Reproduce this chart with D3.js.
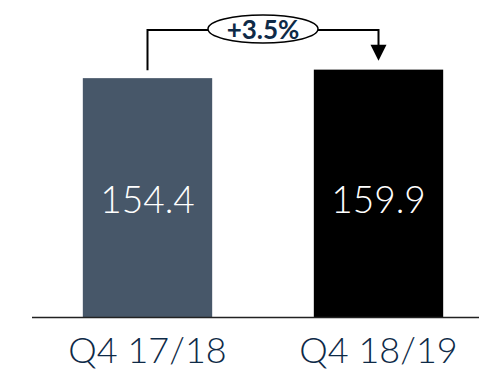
<!DOCTYPE html>
<html>
<head>
<meta charset="utf-8">
<script src="https://cdn.jsdelivr.net/npm/d3@7/dist/d3.min.js"></script>
<style>
  html, body { margin: 0; padding: 0; background: #fff; }
  svg { display: block; }
</style>
</head>
<body>
<svg id="chart" width="479" height="370"></svg>
<script>
// Quarterly values
const categories = ["Q4 17/18", "Q4 18/19"];
const values = [154.4, 159.9];
const barColors = ["#475769", "#000000"];
const changeLabel = "+3.5%";

const svg = d3.select("#chart");
const baseline = 317;

const x = d3.scaleBand()
  .domain(categories)
  .range([32, 494])
  .paddingInner(0.44)
  .paddingOuter(0.22);

const y = d3.scaleLinear()
  .domain([0, 160])
  .range([baseline, baseline - 160 * 1.547]);

// Bars
svg.selectAll("rect.bar")
  .data(values)
  .join("rect")
  .attr("class", "bar")
  .attr("x", (d, i) => x(categories[i]))
  .attr("y", d => y(d))
  .attr("width", x.bandwidth())
  .attr("height", d => y(0) - y(d))
  .attr("fill", (d, i) => barColors[i]);

// Value labels inside bars
svg.selectAll("text.val")
  .data(values)
  .join("text")
  .attr("class", "val")
  .attr("x", (d, i) => x(categories[i]) + x.bandwidth() / 2)
  .attr("y", 213)
  .attr("text-anchor", "middle")
  .attr("fill", "#fff")
  .attr("font-family", "Lato, sans-serif")
  .attr("font-weight", 300)
  .attr("font-size", 37)
  .text(d => d.toFixed(1));

// Baseline axis
const xAxis = d3.axisBottom(x).tickSize(0).tickPadding(0);
const ax = svg.append("g").attr("transform", `translate(0,${baseline})`).call(xAxis);
ax.select(".domain").attr("d", `M32,0.5H479`).attr("stroke", "#222").attr("stroke-width", 1.5);
ax.selectAll(".tick text")
  .attr("y", 46)
  .attr("dy", 0)
  .attr("fill", "#0e2a47")
  .attr("font-family", "Lato, sans-serif")
  .attr("font-weight", 300)
  .attr("font-size", 36);

// Growth bracket between the two bars
const cx0 = x(categories[0]) + x.bandwidth() / 2;
const cx1 = x(categories[1]) + x.bandwidth() / 2;
const bracketY = 30;
const ovalCx = 263, ovalRx = 55, ovalRy = 14;

svg.append("path")
  .attr("d", `M${cx0},${y(values[0]) - 8}V${bracketY}H${ovalCx - ovalRx}`)
  .attr("fill", "none").attr("stroke", "#000").attr("stroke-width", 2);
svg.append("path")
  .attr("d", `M${ovalCx + ovalRx},${bracketY}H${cx1}V${y(values[1]) - 24}`)
  .attr("fill", "none").attr("stroke", "#000").attr("stroke-width", 2);
svg.append("path")
  .attr("d", `M${cx1 - 8},${y(values[1]) - 25}L${cx1 + 8},${y(values[1]) - 25}L${cx1},${y(values[1]) - 9}Z`)
  .attr("fill", "#000");

svg.append("ellipse")
  .attr("cx", ovalCx).attr("cy", bracketY - 1)
  .attr("rx", ovalRx).attr("ry", ovalRy)
  .attr("fill", "#fff").attr("stroke", "#000").attr("stroke-width", 1.5);
svg.append("text")
  .attr("x", ovalCx).attr("y", bracketY + 9)
  .attr("text-anchor", "middle")
  .attr("fill", "#0e2a47")
  .attr("font-family", "Lato, sans-serif")
  .attr("font-weight", 700)
  .attr("font-size", 26)
  .text(changeLabel);
</script>
</body>
</html>
